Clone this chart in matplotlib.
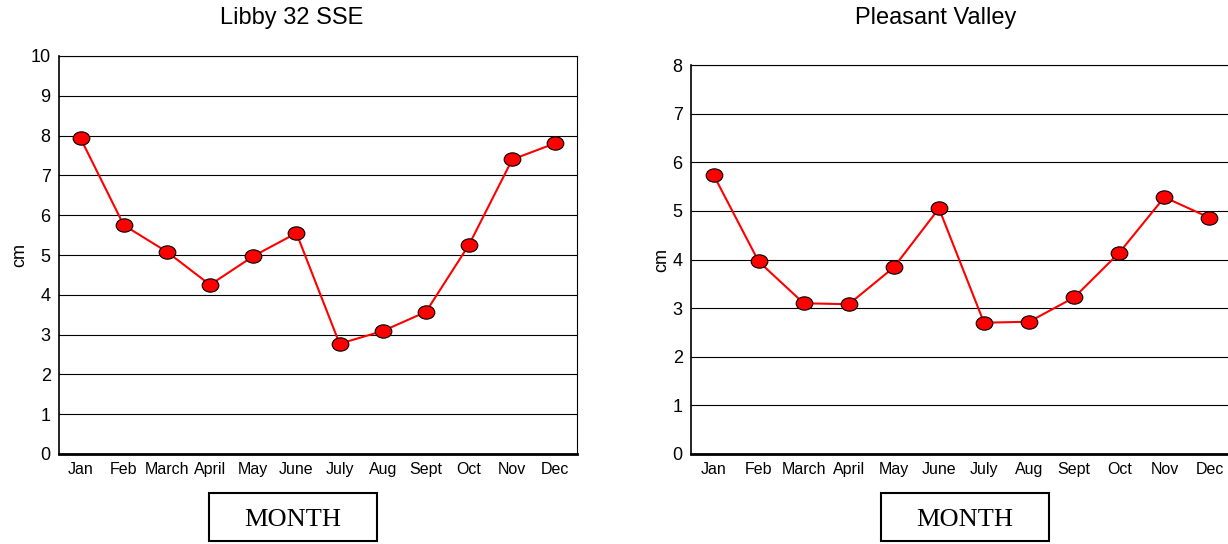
import numpy as np
import matplotlib.pyplot as plt
from matplotlib.path import Path
from matplotlib.patches import Rectangle
from matplotlib.transforms import Affine2D

plt.rcParams['font.family'] = ['Liberation Sans', 'DejaVu Sans']

months = ['Jan', 'Feb', 'March', 'April', 'May', 'June', 'July', 'Aug',
          'Sept', 'Oct', 'Nov', 'Dec']
libby_cm = [7.93, 5.75, 5.08, 4.25, 4.97, 5.55, 2.77, 3.09, 3.57, 5.26, 7.40, 7.81]
pleasant_cm = [5.74, 3.96, 3.10, 3.08, 3.84, 5.05, 2.70, 2.72, 3.22, 4.14, 5.28, 4.86]

W, H = 1228, 544

# marcador eliptico (mas ancho que alto)
elipse = Path.unit_circle().transformed(Affine2D().scale(1.0, 0.8))

fig = plt.figure(figsize=(W / 100, H / 100), dpi=100)

paneles = [
    # (titulo, datos, ymax, [left, top, width, height] en px, centro titulo x, caja MONTH x)
    ('Libby 32 SSE', libby_cm, 10, [59, 56, 518, 398], 292, 209),
    ('Pleasant Valley', pleasant_cm, 8, [691, 65, 541, 389], 936, 881),
]

for titulo, datos, ymax, (l, t, w, h), tit_x, caja_x in paneles:
    ax = fig.add_axes([l / W, 1 - (t + h) / H, w / W, h / H])
    x = np.arange(len(months))
    ax.plot(x, datos, color='#ff0000', linewidth=1.5, marker=elipse,
            markersize=12, markerfacecolor='#ff0000', markeredgecolor='black',
            markeredgewidth=0.8, zorder=3)
    ax.set_xlim(-0.5, len(months) - 0.5)
    ax.set_ylim(0, ymax)
    ax.set_yticks(range(0, ymax + 1))
    ax.set_xticks(x)
    ax.set_xticklabels(months, fontsize=11.5)
    ax.tick_params(axis='y', labelsize=13, length=0, pad=6)
    ax.tick_params(axis='x', length=0, pad=6)
    ax.yaxis.grid(True, color='black', linewidth=0.8)
    ax.set_axisbelow(True)
    for s in ax.spines.values():
        s.set_color('black')
        s.set_linewidth(0.8)
    ax.spines['bottom'].set_linewidth(2)
    ax.spines['left'].set_linewidth(1.2)
    ax.set_ylabel('cm', fontsize=13, labelpad=2)

    fig.text(tit_x / W, 1 - 18 / H, titulo, ha='center', va='center', fontsize=17)

    # caja "MONTH" debajo del grafico
    fig.add_artist(Rectangle((caja_x / W, 1 - 541 / H), 168 / W, 48 / H,
                             transform=fig.transFigure, facecolor='white',
                             edgecolor='black', linewidth=1.5))
    fig.text((caja_x + 84) / W, 1 - 520 / H, 'MONTH', ha='center', va='center',
             fontsize=19, family=['Liberation Serif', 'DejaVu Serif'])

fig.savefig('out.png', dpi=100)
